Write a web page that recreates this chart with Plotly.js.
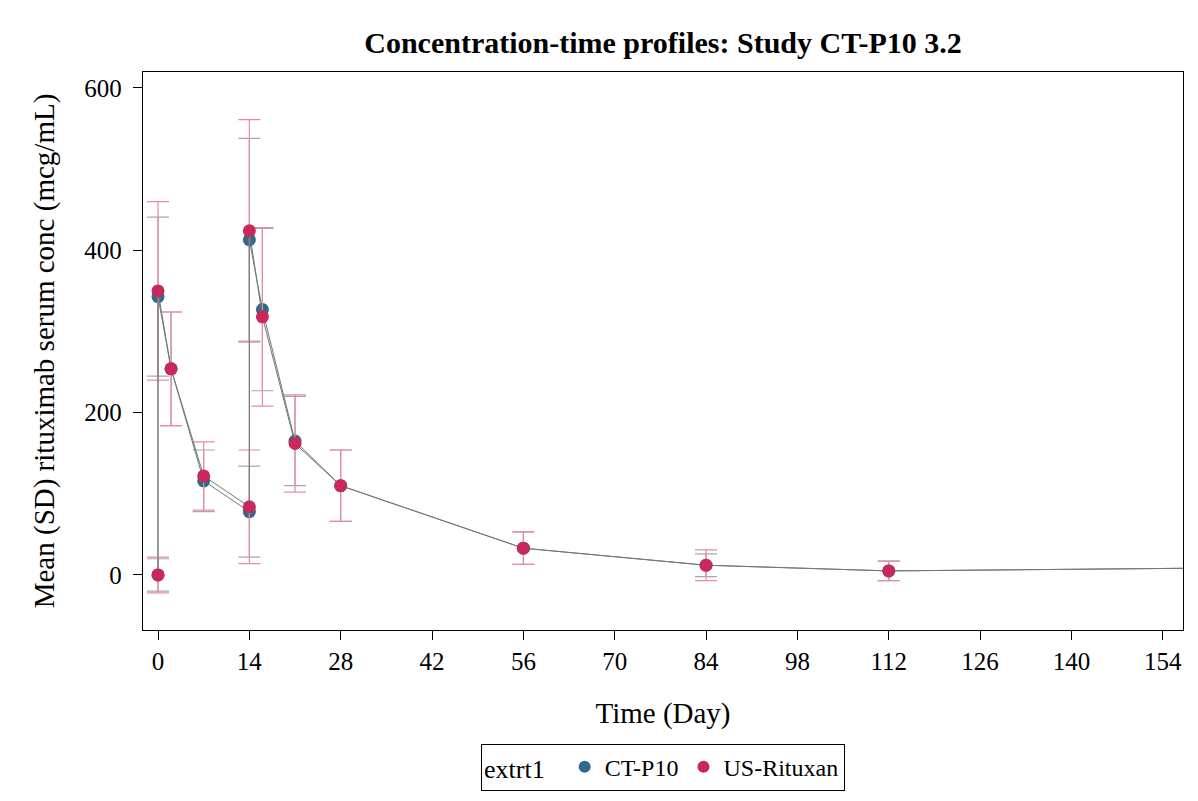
<!DOCTYPE html>
<html>
<head>
<meta charset="utf-8">
<script src="https://cdn.plot.ly/plotly-3.0.1.min.js"></script>
<style>html,body{margin:0;padding:0;background:#fff;}#chart{width:1198px;height:801px;}</style>
</head>
<body>
<div id="chart"></div>
<script>
// Nominal sampling days (pre-dose and post-dose at days 0 and 14)
const days = [0, 0, 2, 7, 14, 14, 16, 21, 28, 56, 84, 112, 168];
// Mean concentrations (mcg/mL)
const ctp10Mean    = [0, 343, 254, 116, 78, 413, 327, 165, 110, 33, 12, 5, 9];
const rituxanMean  = [0, 350, 254, 122, 84, 424, 318, 162, 110, 33, 12, 5, 9];
// Standard deviations
const ctp10SD      = [20, 98, 70, 38, 56, 125, 100, 55, 44, 20, 14, 12, 8];
const rituxanSD    = [22, 110, 70, 42, 70, 137, 110, 60, 44, 20, 19, 12, 8];
// Series names and tick labels
const seriesNames = ["CT-P10", "US-Rituxan"];
const xTicks = [0, 14, 28, 42, 56, 70, 84, 98, 112, 126, 140, 154];
const yTicks = [0, 200, 400, 600];

const serif = "Liberation Serif, Times New Roman, serif";
const markerColors = ["#2f6a8c", "#c8285a"];
const barColors = ["#a8a8a8", "#e88aa5"];
const means = [ctp10Mean, rituxanMean];
const sds = [ctp10SD, rituxanSD];

const traces = [];
for (let i = 0; i < 2; i++) {
  traces.push({
    name: seriesNames[i], x: days, y: means[i], type: "scatter", mode: "lines+markers",
    showlegend: false, legendgroup: seriesNames[i],
    line: {color: "#707878", width: 1},
    marker: {color: markerColors[i], size: 13},
    error_y: {type: "data", array: sds[i], visible: true, color: barColors[i], thickness: 1.2, width: 11}
  });
}
// legend entries (markers only, as in the reference legend)
for (let i = 0; i < 2; i++) {
  traces.push({
    name: seriesNames[i], x: [null], y: [null], type: "scatter", mode: "markers",
    legendgroup: seriesNames[i], showlegend: true,
    marker: {color: markerColors[i], size: 8}
  });
}

const layout = {
  width: 1198, height: 801,
  margin: {l: 143, r: 15, t: 72, b: 171},
  paper_bgcolor: "#ffffff", plot_bgcolor: "#ffffff",
  font: {family: serif, color: "#000", size: 25},
  title: {text: "<b>Concentration-time profiles: Study CT-P10 3.2</b>", font: {family: serif, size: 30, color: "#000"},
          x: 0.5, xref: "paper", xanchor: "center", y: 0.947, yref: "container", yanchor: "middle"},
  xaxis: {
    range: [-2.3, 157.1], tickvals: xTicks, ticktext: xTicks.map(String),
    showgrid: false, zeroline: false, showline: true, mirror: true, linecolor: "#000", linewidth: 1,
    ticks: "outside", ticklen: 9, tickcolor: "#000", tickfont: {size: 25, family: serif},
    title: {text: "Time (Day)", font: {size: 29, family: serif}, standoff: 28}
  },
  yaxis: {
    range: [-67.8, 619.7], tickvals: yTicks, ticktext: yTicks.map(v => v + "\u2005"),
    showgrid: false, zeroline: false, showline: true, mirror: true, linecolor: "#000", linewidth: 1,
    ticks: "outside", ticklen: 9, tickcolor: "#000", tickfont: {size: 25, family: serif},
    title: {text: "Mean (SD) rituximab serum conc (mcg/mL)", font: {size: 29, family: serif}, standoff: 21}
  },
  showlegend: true,
  legend: {
    orientation: "h", x: 0.5, xanchor: "center", xref: "paper",
    y: 0.013, yref: "container", yanchor: "bottom",
    bordercolor: "#000", borderwidth: 1, bgcolor: "#fff",
    font: {size: 24, family: serif},
    title: {text: "extrt1  ", font: {size: 26, family: serif}},
    itemsizing: "constant", itemwidth: 30
  }
};

Plotly.newPlot("chart", traces, layout, {displayModeBar: false, staticPlot: true});
</script>
</body>
</html>
